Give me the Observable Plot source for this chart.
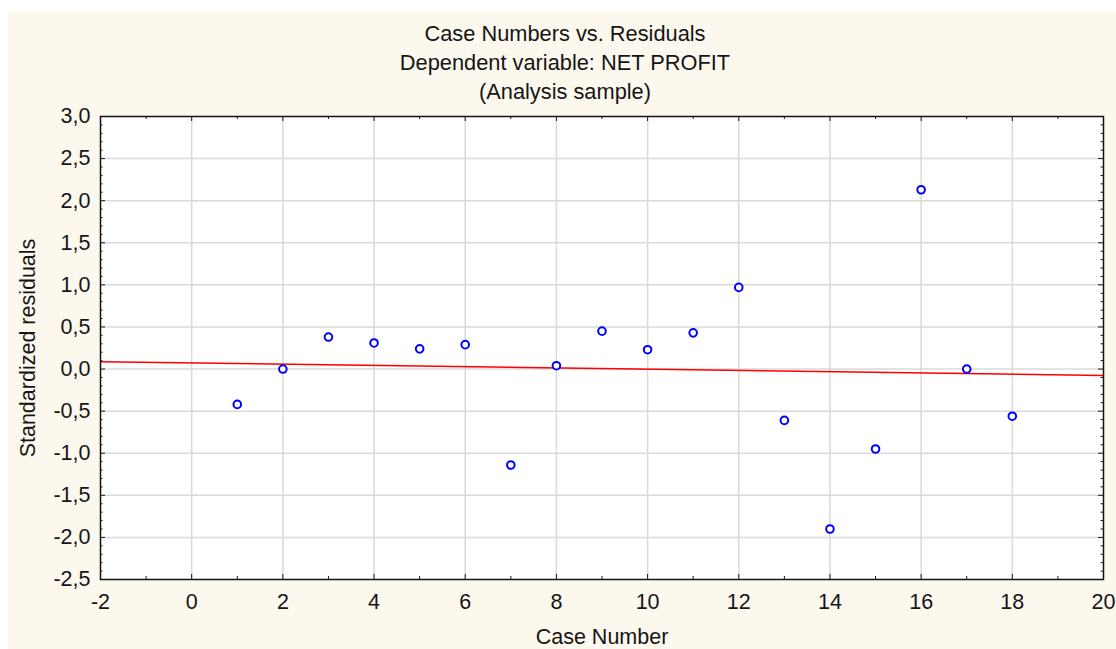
<!DOCTYPE html>
<html><head><meta charset="utf-8">
<script src="https://cdn.jsdelivr.net/npm/d3@7"></script>
<script src="https://cdn.jsdelivr.net/npm/@observablehq/plot@0.6"></script>
<style>
html,body{margin:0;padding:0;background:#fff;width:1116px;height:649px;overflow:hidden}
#wrap{position:absolute;left:8px;top:12px;width:1108px;height:637px;background:#fdf8ee;font-family:"Liberation Sans",Arial,sans-serif;color:#151515}
#title{position:absolute;left:3px;top:7px;width:100%;text-align:center;font-size:21.8px;line-height:29px}
#chart{position:absolute;left:0;top:93px}
</style></head><body>
<div id="wrap">
  <div id="title"><div>Case Numbers vs. Residuals</div><div>Dependent variable: NET PROFIT</div><div>(Analysis sample)</div></div>
  <div id="chart"></div>
</div>
<script>
const caseNumbers = [1, 2, 3, 4, 5, 6, 7, 8, 9, 10, 11, 12, 13, 14, 15, 16, 17, 18];
const residuals = [-0.42, 0.00, 0.38, 0.31, 0.24, 0.29, -1.14, 0.04, 0.45, 0.23, 0.43, 0.97, -0.61, -1.90, -0.95, 2.13, 0.00, -0.56];
const fitX = [-2, 20];
const fitY = [0.088, -0.076];
const xTicks = [-2, 0, 2, 4, 6, 8, 10, 12, 14, 16, 18, 20];
const yTicks = [-2.5, -2.0, -1.5, -1.0, -0.5, 0.0, 0.5, 1.0, 1.5, 2.0, 2.5, 3.0];
const xMinor = [-1, 1, 3, 5, 7, 9, 11, 13, 15, 17, 19];
const yMinor = d3.range(-25, 31).filter(v => v % 5 !== 0).map(v => v / 10);

const W = 1108, H = 544, mL = 92, mR = 13, mT = 11, mB = 70;
const pw = W - mL - mR, ph = H - mT - mB;
const fmt = d => d.toFixed(1).replace(".", ",");
const pts = caseNumbers.map((c, i) => ({c, r: residuals[i]}));
const fit = fitX.map((x, i) => ({x, y: fitY[i]}));
const tk = "#1a1a1a";
const grid = {stroke: "#dadada", strokeOpacity: 1, strokeWidth: 1.5};

const chart = Plot.plot({
  width: W, height: H,
  marginLeft: mL, marginRight: mR, marginTop: mT, marginBottom: mB,
  style: {background: "transparent", fontFamily: "'Liberation Sans', Arial, sans-serif", fontSize: "21.5px", color: "#151515", overflow: "visible"},
  x: {domain: [-2, 20]},
  y: {domain: [-2.5, 3]},
  marks: [
    Plot.frame({fill: "white"}),
    Plot.gridX(xTicks.slice(1, -1), grid),
    Plot.gridY(yTicks.slice(1, -1), grid),
    Plot.tickX(xTicks, {insetTop: ph - 5, stroke: tk}),
    Plot.tickX(xTicks, {insetBottom: ph - 5, stroke: tk}),
    Plot.tickX(xMinor, {insetTop: ph - 3, stroke: tk}),
    Plot.tickX(xMinor, {insetBottom: ph - 3, stroke: tk}),
    Plot.tickY(yTicks, {insetRight: pw - 5, stroke: tk}),
    Plot.tickY(yTicks, {insetLeft: pw - 5, stroke: tk}),
    Plot.tickY(yMinor, {insetRight: pw - 2.5, stroke: tk}),
    Plot.tickY(yMinor, {insetLeft: pw - 2.5, stroke: tk}),
    Plot.axisX(xTicks, {tickSize: 0, tickPadding: 14, tickFormat: d => String(d), label: null}),
    Plot.axisY(yTicks, {tickSize: 0, tickPadding: 10, tickFormat: fmt, label: null}),
    Plot.line(fit, {x: "x", y: "y", stroke: "#ff0000", strokeWidth: 1.5}),
    Plot.dot(pts, {x: "c", y: "r", r: 3.8, stroke: "#0000ff", strokeWidth: 2, fill: "white"}),
    Plot.frame({stroke: "#111", strokeWidth: 1.5}),
    Plot.text(["Standardized residuals"], {frameAnchor: "left", rotate: -90, dx: -72, lineAnchor: "middle", textAnchor: "middle"}),
    Plot.text(["Case Number"], {frameAnchor: "bottom", dy: 49.5, lineAnchor: "top"})
  ]
});
document.getElementById("chart").appendChild(chart);
</script>
</body></html>
